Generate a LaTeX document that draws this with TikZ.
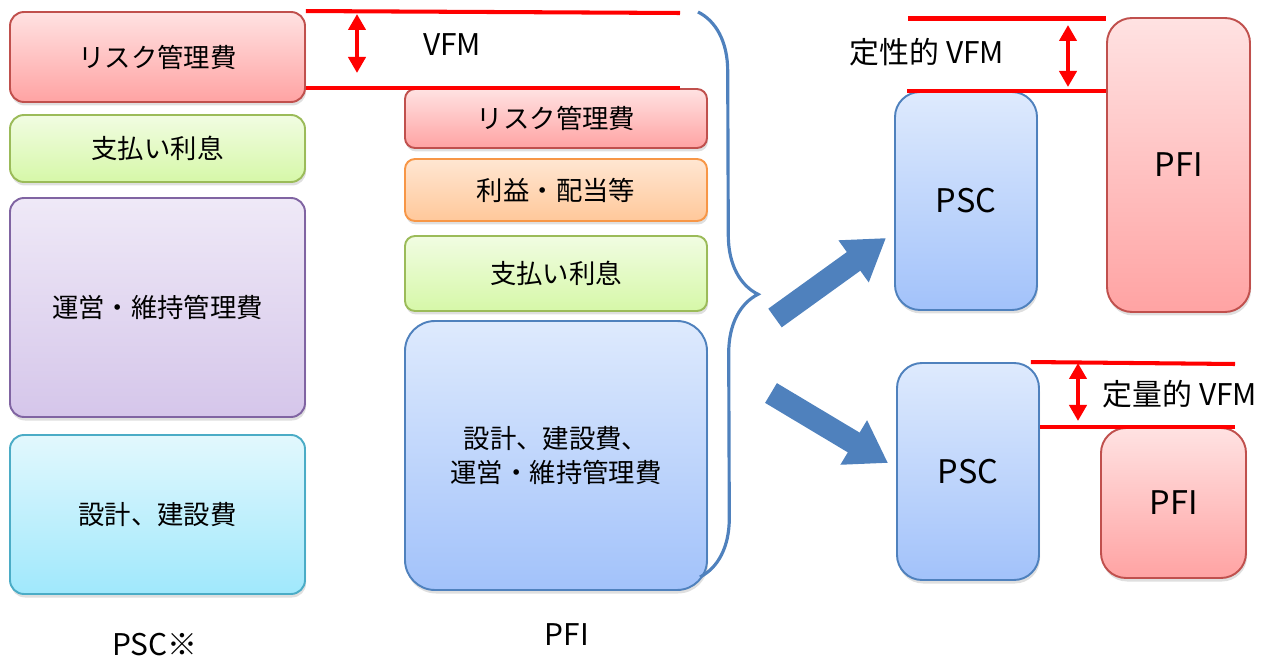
\documentclass[tikz,border=0pt]{standalone}
\usepackage{fontspec}
\setmainfont{Noto Sans CJK JP}
\usepackage{tikz}
\usetikzlibrary{arrows.meta,positioning,calc,shadows,decorations.pathreplacing}
\usepackage{xcolor}
\definecolor{riskline}{RGB}{192,80,77}
\definecolor{risktop}{RGB}{255,226,226}
\definecolor{riskbot}{RGB}{255,163,163}
\definecolor{intline}{RGB}{155,187,89}
\definecolor{inttop}{RGB}{241,252,226}
\definecolor{intbot}{RGB}{214,248,168}
\definecolor{opline}{RGB}{128,100,162}
\definecolor{optop}{RGB}{239,233,247}
\definecolor{opbot}{RGB}{213,198,234}
\definecolor{bldline}{RGB}{75,172,198}
\definecolor{bldtop}{RGB}{226,248,253}
\definecolor{bldbot}{RGB}{160,232,252}
\definecolor{prfline}{RGB}{247,150,70}
\definecolor{prftop}{RGB}{255,230,210}
\definecolor{prfbot}{RGB}{255,200,154}
\definecolor{pscline}{RGB}{79,129,189}
\definecolor{psctop}{RGB}{222,234,253}
\definecolor{pscbot}{RGB}{162,194,250}

\begin{document}
\begin{tikzpicture}[
    costbox/.style={rectangle, rounded corners=0.28cm, line width=1.1pt, align=center,
                 font=\fontsize{15}{19.5}\selectfont, inner sep=2pt,
                 drop shadow={shadow xshift=0.02cm, shadow yshift=-0.07cm, opacity=0.25}},
    riskc/.style={draw=riskline, top color=risktop, bottom color=riskbot},
    intc/.style={draw=intline, top color=inttop, bottom color=intbot},
    opc/.style={draw=opline, top color=optop, bottom color=opbot},
    bldc/.style={draw=bldline, top color=bldtop, bottom color=bldbot},
    prfc/.style={draw=prfline, top color=prftop, bottom color=prfbot},
    pscc/.style={draw=pscline, top color=psctop, bottom color=pscbot},
    valbox/.style={costbox, rounded corners=0.5cm, minimum width=2.84cm, font=\fontsize{18.5}{22}\selectfont},
    lbl/.style={font=\fontsize{17}{20}\selectfont, inner sep=1pt},
    redline/.style={red, line width=2.3pt},
    vfmarr/.style={red, line width=2.3pt, {Triangle[length=0.32cm, width=0.34cm]}-{Triangle[length=0.32cm, width=0.34cm]}},
    bigarr/.style={pscline, line width=0.46cm, -{Triangle[length=0.8cm, width=0.98cm]}},
    brc/.style={decorate, decoration={brace, amplitude=1.18cm}, pscline, line width=1.8pt}
]
\useasboundingbox (0,0) rectangle (25.42,-13.14);

\node[costbox, riskc, minimum width=5.9cm, minimum height=1.8cm]  (riskL)  at (3.15,-1.14)  {リスク管理費};
\node[costbox, intc,  minimum width=5.9cm, minimum height=1.34cm] (intL)   at (3.15,-2.97)  {支払い利息};
\node[costbox, opc,   minimum width=5.9cm, minimum height=4.38cm] (opL)    at (3.15,-6.15)  {運営・維持管理費};
\node[costbox, bldc,  minimum width=5.9cm, minimum height=3.18cm] (bldL)   at (3.15,-10.29) {設計、建設費};
\node[lbl] (pscnote) at (3.1,-12.9) {PSC※};

\node[costbox, riskc, rounded corners=0.2cm, minimum width=6.04cm, minimum height=1.18cm] (riskR) at (11.12,-2.37) {リスク管理費};
\node[costbox, prfc,  rounded corners=0.2cm, minimum width=6.04cm, minimum height=1.24cm] (prf)   at (11.12,-3.8)  {利益・配当等};
\node[costbox, intc,  rounded corners=0.2cm, minimum width=6.04cm, minimum height=1.5cm]  (intR)  at (11.12,-5.47) {支払い利息};
\node[costbox, pscc,  rounded corners=0.6cm, minimum width=6.04cm, minimum height=5.38cm] (costR) at (11.12,-9.11) {設計、建設費、\\運営・維持管理費};
\node[lbl] (pfinote) at (11.34,-12.7) {PFI};

\coordinate (vfmEnd) at (13.6,-0.26);
\draw[redline] (riskL.north east) -- (vfmEnd);
\draw[redline] (riskL.east |- riskR.north) -- (riskR.north -| vfmEnd);
\coordinate (vfmA) at (7.14,-0.28);
\coordinate (vfmB) at (7.14,-1.46);
\draw[vfmarr] (vfmA) -- (vfmB);
\node[lbl] (vfm) at (9.04,-0.9) {VFM};

\coordinate (braceT) at (13.96,-0.24);
\coordinate (braceB) at (14.0,-11.54);
\draw[brc] (braceT) -- (braceB);

\node[valbox, pscc, minimum height=4.36cm] (pscA) at (19.32,-4.02) {PSC};
\node[valbox, riskc, minimum width=2.86cm, minimum height=5.88cm] (pfiA) at (23.57,-3.3) {PFI};
\node[valbox, pscc, minimum height=4.34cm] (pscB) at (19.36,-9.43) {PSC};
\node[valbox, riskc, minimum width=2.9cm, minimum height=3.0cm] (pfiB) at (23.47,-10.06) {PFI};

\coordinate (arrA) at (15.5,-6.36);
\coordinate (arrB) at (15.42,-7.86);
\draw[bigarr] (arrA) -- ($(pscA.west)+(-0.16,-0.74)$);
\draw[bigarr] (arrB) -- ($(pscB.west)+(-0.16,0.17)$);

\coordinate (qlStart) at (18.16,-0.37);
\draw[redline] (qlStart) -- (qlStart -| pfiA.west);
\draw[redline] ([xshift=0.26cm]pscA.north west) -- (pscA.north -| pfiA.west);
\coordinate (qlA) at (21.36,-0.5);
\coordinate (qlB) at (21.36,-1.74);
\draw[vfmarr] (qlA) -- (qlB);
\node[lbl] (qual) at (18.54,-1.04) {定性的 VFM};

\coordinate (qtEnd) at (24.7,-7.28);
\draw[redline] ([xshift=-0.18cm]pscB.north east) -- (qtEnd);
\draw[redline] (pscB.east |- pfiB.north) -- (pfiB.north -| qtEnd);
\coordinate (qtA) at (21.56,-7.26);
\coordinate (qtB) at (21.56,-8.42);
\draw[vfmarr] (qtA) -- (qtB);
\node[lbl] (quant) at (23.6,-7.88) {定量的 VFM};
\end{tikzpicture}
\end{document}
